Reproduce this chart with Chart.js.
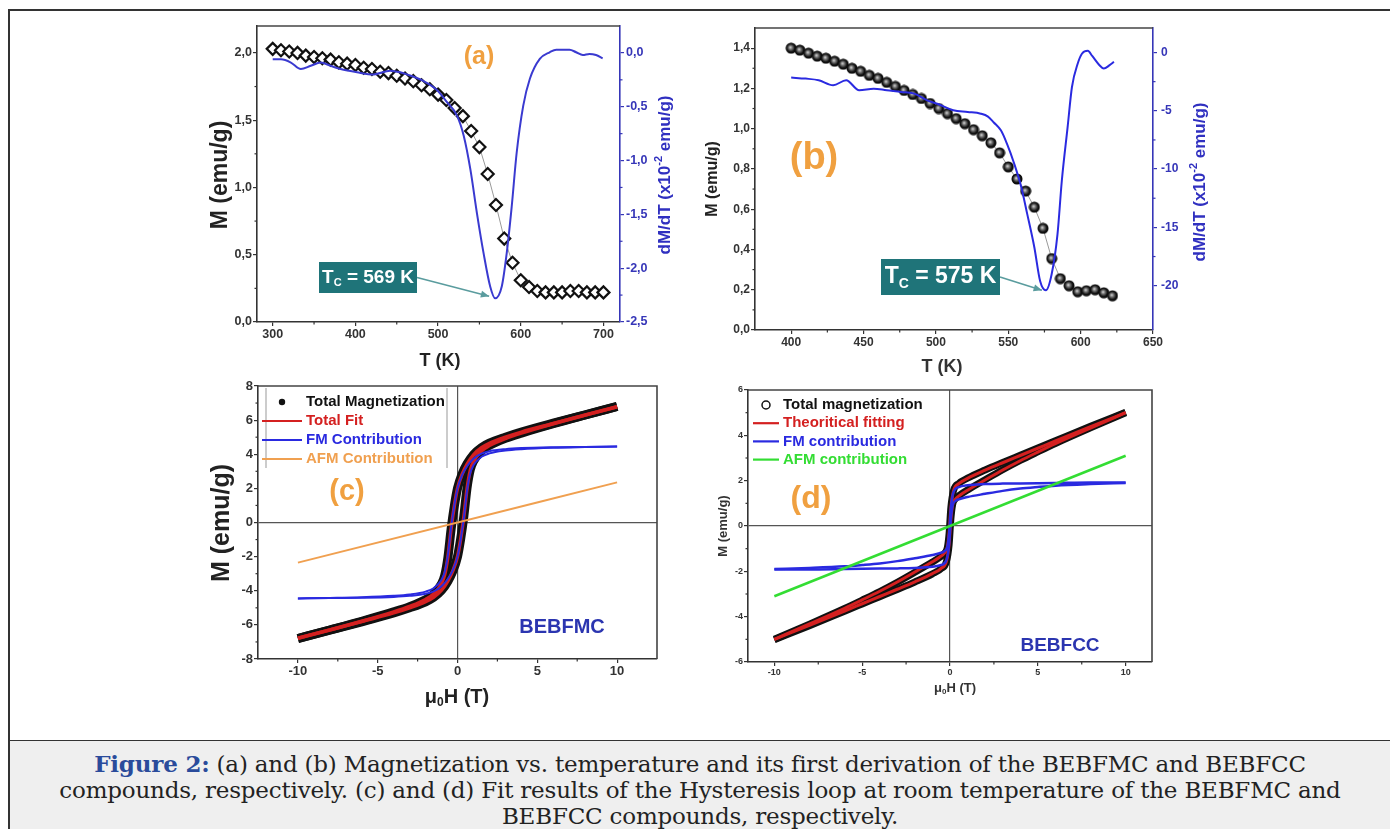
<!DOCTYPE html>
<html>
<head>
<meta charset="utf-8">
<script src="https://cdn.jsdelivr.net/npm/chart.js@4.4.1/dist/chart.umd.min.js"></script>
<style>
  body { margin: 0; width: 1390px; height: 829px; background: #fff; position: relative; overflow: hidden; }
  #frame { position: absolute; left: 8px; top: 9px; width: 1400px; height: 830px; border-left: 2px solid #333; border-top: 2px solid #333; }
  canvas { position: absolute; }
  #caption { position: absolute; left: 10px; top: 740px; width: 1380px; height: 89px; background: #efefef; border-top: 1px solid #333;
             font-family: 'DejaVu Serif', 'Liberation Serif', serif; font-size: 23px; line-height: 26px; letter-spacing: -0.2px;
             color: #222; text-align: center; padding-top: 10px; box-sizing: border-box; }
  #caption b { color: #2a4b9b; }
</style>
</head>
<body>
<div id="frame"></div>
<canvas id="cA"></canvas>
<canvas id="cB"></canvas>
<canvas id="cC"></canvas>
<canvas id="cD"></canvas>
<div id="caption"><b>Figure 2:</b> (a) and (b) Magnetization vs. temperature and its first derivation of the BEBFMC and BEBFCC<br>compounds, respectively. (c) and (d) Fit results of the Hysteresis loop at room temperature of the BEBFMC and<br>BEBFCC compounds, respectively.</div>
<script>
// ---- (a) BEBFMC : M(T) and dM/dT ----
const tempA = [300,310,320,330,340,350,360,370,380,390,400,410,420,430,440,450,460,470,480,490,500,510,520,530,540,550,560,570,580,590,600,610,620,630,640,650,660,670,680,690,700];
const magA = [2.03,2.02,2.01,2.00,1.98,1.97,1.96,1.95,1.93,1.92,1.91,1.89,1.88,1.86,1.85,1.83,1.81,1.79,1.76,1.73,1.69,1.65,1.59,1.53,1.42,1.30,1.10,0.87,0.62,0.44,0.31,0.26,0.23,0.22,0.22,0.22,0.23,0.23,0.22,0.22,0.22];
const tempDerivA = [300,310,322,334,346,358,370,382,402,422,442,454,466,482,498,510,523,531,539,547,555,563,569,577,583,589,595,603,611,623,635,643,659,667,675,683,691,699];
const derivA = [-0.06,-0.06,-0.09,-0.15,-0.12,-0.09,-0.12,-0.15,-0.18,-0.2,-0.165,-0.18,-0.21,-0.26,-0.34,-0.45,-0.585,-0.77,-1.08,-1.49,-1.86,-2.17,-2.28,-2.17,-1.86,-1.43,-0.93,-0.49,-0.24,-0.056,0.006,0.03,0.03,0.006,-0.02,-0.01,-0.02,-0.05];
const tTicksA = [300,400,500,600,700];
const mTicksA = [0,0.5,1.0,1.5,2.0];
const dTicksA = [0,-0.5,-1.0,-1.5,-2.0,-2.5];

// ---- (b) BEBFCC : M(T) and dM/dT ----
const tempB = [400,406,412,418,424,430,436,442,448,454,460,466,472,478,484,490,496,502,508,514,520,526,532,538,544,550,556,562,568,574,580,586,592,598,604,610,616,622];
const magB = [1.40,1.39,1.375,1.36,1.35,1.335,1.32,1.30,1.285,1.265,1.25,1.23,1.21,1.19,1.17,1.15,1.125,1.10,1.075,1.05,1.025,0.995,0.965,0.93,0.88,0.81,0.75,0.69,0.61,0.505,0.355,0.255,0.22,0.19,0.195,0.20,0.185,0.17];
const tempDerivB = [400,410,419,429,438,447,457,466,476,485,494,503,512,522,531,536,540,545,549,554,559,563,568,572,576,580,584,587,591,594,598,601,605,608,613,616,620,623];
const derivB = [-2.15,-2.24,-2.38,-2.81,-2.38,-3.24,-3.1,-3.24,-3.38,-3.53,-4.1,-4.5,-4.96,-5.1,-5.25,-5.5,-6.0,-6.7,-7.8,-9.5,-11.55,-13.8,-16.7,-19.6,-20.4,-19.0,-15.6,-11.0,-6.4,-2.96,-0.95,-0.09,0.14,-0.3,-1.09,-1.38,-1.09,-0.8];
const tTicksB = [400,450,500,550,600,650];
const mTicksB = [0,0.2,0.4,0.6,0.8,1.0,1.2,1.4];
const dTicksB = [0,-5,-10,-15,-20];

// ---- (c) BEBFMC hysteresis ----
const fieldDownC = [10,8,6,4,3,2,1.5,1,0.6,0.3,0,-0.2,-0.4,-0.6,-0.8,-1,-1.5,-2,-3,-4,-6,-8,-10];
const fieldUpC = [-10,-8,-6,-4,-3,-2,-1.5,-1,-0.6,-0.3,0,0.2,0.4,0.6,0.8,1,1.5,2,3,4,6,8,10];
const totalDownC = [6.8,6.31,5.82,5.3,5.0,4.65,4.39,3.98,3.44,2.87,2.0,0.95,-0.39,-2.04,-3.09,-3.59,-4.2,-4.52,-4.93,-5.24,-5.79,-6.3,-6.8];
const totalUpC = [-6.8,-6.31,-5.82,-5.3,-5.0,-4.65,-4.39,-3.98,-3.44,-2.87,-2.0,-0.95,0.39,2.04,3.09,3.59,4.2,4.52,4.93,5.24,5.79,6.3,6.8];
const fitDownC = [6.78,6.3,5.8,5.3,5.0,4.64,4.38,3.97,3.42,2.85,2.0,0.97,-0.36,-2.0,-3.06,-3.57,-4.19,-4.51,-4.92,-5.24,-5.79,-6.29,-6.78];
const fitUpC = [-6.78,-6.3,-5.8,-5.3,-5.0,-4.64,-4.38,-3.97,-3.42,-2.85,-2.0,-0.97,0.36,2.0,3.06,3.57,4.19,4.51,4.92,5.24,5.79,6.29,6.78];
const fmDownC = [4.45,4.43,4.41,4.36,4.3,4.18,4.04,3.74,3.3,2.8,2.0,1.0,-0.3,-1.9,-2.9,-3.35,-3.85,-4.05,-4.22,-4.3,-4.38,-4.42,-4.45];
const fmUpC = [-4.45,-4.43,-4.41,-4.36,-4.3,-4.18,-4.04,-3.74,-3.3,-2.8,-2.0,-1.0,0.3,1.9,2.9,3.35,3.85,4.05,4.22,4.3,4.38,4.42,4.45];
const afmFieldC = [-10,10];
const afmC = [-2.35,2.35];
const hTicksC = [-10,-5,0,5,10];
const mTicksC = [-8,-6,-4,-2,0,2,4,6,8];

// ---- (d) BEBFCC hysteresis ----
const fieldDownD = [10,8,6,5,4,3,2,1,0.5,0.2,0.05,-0.05,-0.15,-0.3,-0.6,-1,-2,-3,-4,-5,-6,-8,-10];
const fieldUpD = [-10,-8,-6,-5,-4,-3,-2,-1,-0.5,-0.2,-0.05,0.05,0.15,0.3,0.6,1,2,3,4,5,6,8,10];
const totalDownD = [5.02,4.4,3.76,3.44,3.12,2.8,2.47,2.11,1.88,1.56,0.82,-0.32,-0.95,-1.19,-1.39,-1.59,-2.04,-2.48,-2.89,-3.27,-3.64,-4.33,-5.0];
const totalUpD = [-5.02,-4.4,-3.76,-3.44,-3.12,-2.8,-2.47,-2.11,-1.88,-1.56,-0.82,0.32,0.95,1.19,1.39,1.59,2.04,2.48,2.89,3.27,3.64,4.33,5.0];
const fitDownD = [5.0,4.38,3.75,3.43,3.11,2.79,2.46,2.1,1.87,1.55,0.8,-0.3,-0.93,-1.18,-1.38,-1.58,-2.03,-2.47,-2.88,-3.26,-3.63,-4.32,-5.0];
const fitUpD = [-5.0,-4.38,-3.75,-3.43,-3.11,-2.79,-2.46,-2.1,-1.87,-1.55,-0.8,0.3,0.93,1.18,1.38,1.58,2.03,2.47,2.88,3.26,3.63,4.32,5.0];
const fmDownD = [1.92,1.92,1.9,1.89,1.88,1.87,1.85,1.8,1.72,1.5,0.8,-0.3,-0.9,-1.1,-1.2,-1.28,-1.42,-1.55,-1.65,-1.72,-1.78,-1.85,-1.9];
const fmUpD = [-1.92,-1.92,-1.9,-1.89,-1.88,-1.87,-1.85,-1.8,-1.72,-1.5,-0.8,0.3,0.9,1.1,1.2,1.28,1.42,1.55,1.65,1.72,1.78,1.85,1.9];
const afmFieldD = [-10,10];
const afmD = [-3.1,3.1];
const hTicksD = [-10,-5,0,5,10];
const mTicksD = [-6,-4,-2,0,2,4,6];

const FONT = "'Liberation Sans', Arial, sans-serif";
const xy = (xs, ys) => xs.map((x, i) => ({x: x, y: ys[i]}));
const comma1 = v => v.toFixed(1).replace('.', ',');
const plain = v => String(v);

// shaded black ball used for panel (b)
function sphere(r) {
  const c = document.createElement('canvas');
  c.width = c.height = 2 * r;
  const g = c.getContext('2d');
  const grd = g.createRadialGradient(r * 0.85, r * 0.85, 0, r, r, r);
  grd.addColorStop(0, '#e0e0e0');
  grd.addColorStop(0.3, '#777');
  grd.addColorStop(0.65, '#151515');
  grd.addColorStop(1, '#000');
  g.fillStyle = grd;
  g.beginPath(); g.arc(r, r, r - 0.5, 0, Math.PI * 2); g.fill();
  return c;
}

function drawRich(ctx, x, y, parts, rot) {
  ctx.save();
  ctx.translate(x, y);
  if (rot) ctx.rotate(rot);
  ctx.textBaseline = 'middle';
  ctx.textAlign = 'left';
  let w = 0;
  parts.forEach(p => { ctx.font = p.f; w += ctx.measureText(p.t).width; });
  let cx = -w / 2;
  parts.forEach(p => {
    ctx.font = p.f; ctx.fillStyle = p.c;
    ctx.fillText(p.t, cx, p.dy || 0);
    cx += ctx.measureText(p.t).width;
  });
  ctx.restore();
}

function axis(o, pos, size, color, fixed) {
  return {
    type: 'linear', position: pos, min: o.min, max: o.max,
    afterBuildTicks: s => { s.ticks = o.ticks.map(v => ({value: v})); },
    afterFit: s => { if (pos === 'bottom') s.height = fixed; else s.width = fixed; },
    ticks: {font: {family: FONT, size: size, weight: 'bold'}, color: color, padding: o.pad || 1,
            callback: v => o.fmt(v), autoSkip: false, maxRotation: 0},
    grid: {drawOnChartArea: !!o.zero, lineWidth: 1.2, tickLength: 4, tickColor: color,
           color: c => (o.zero && c.tick && c.tick.value === 0) ? '#555' : 'rgba(0,0,0,0)'},
    border: {display: true, color: color, width: 1.6}
  };
}

function decoPlugin(p) {
  return {
    id: 'deco',
    afterDatasetsDraw(chart) {
      const ctx = chart.ctx, a = chart.chartArea;
      const ox = p.box.x, oy = p.box.y;
      ctx.save();
      // frame top / right
      ctx.strokeStyle = '#444'; ctx.lineWidth = 1.6;
      ctx.beginPath(); ctx.moveTo(a.left, a.top); ctx.lineTo(a.right, a.top);
      if (!p.y2) ctx.lineTo(a.right, a.bottom);
      ctx.stroke();
      // minor ticks
      Object.values(chart.scales).forEach(s => {
        const t = s.ticks.map(k => k.value);
        ctx.strokeStyle = s.options.border.color; ctx.lineWidth = 1.2;
        for (let i = 0; i < t.length - 1; i++) {
          const m = (t[i] + t[i + 1]) / 2, px = s.getPixelForValue(m);
          ctx.beginPath();
          if (s.position === 'bottom') { ctx.moveTo(px, a.bottom); ctx.lineTo(px, a.bottom + 2.5); }
          else if (s.position === 'left') { ctx.moveTo(a.left, px); ctx.lineTo(a.left - 2.5, px); }
          else { ctx.moveTo(a.right, px); ctx.lineTo(a.right + 2.5, px); }
          ctx.stroke();
        }
      });
      // axis titles and labels
      (p.texts || []).forEach(t => drawRich(ctx, t.x - ox, t.y - oy, t.parts, t.rot));
      // legend
      if (p.legend) {
        const L = p.legend;
        if (L.bars) {
          ctx.strokeStyle = '#999'; ctx.lineWidth = 1;
          L.bars.forEach(b => { ctx.beginPath(); ctx.moveTo(b - ox, L.barTop - oy); ctx.lineTo(b - ox, L.barBottom - oy); ctx.stroke(); });
        }
        L.rows.forEach((r, i) => {
          const y = L.rows0 + i * L.step - oy;
          if (r.sym === 'dot') {
            ctx.fillStyle = '#111'; ctx.beginPath(); ctx.arc((L.x1 + L.x2) / 2 - ox, y, 3.2, 0, Math.PI * 2); ctx.fill();
          } else if (r.sym === 'circle') {
            ctx.strokeStyle = '#111'; ctx.lineWidth = 1.5; ctx.beginPath(); ctx.arc((L.x1 + L.x2) / 2 - ox, y, 4, 0, Math.PI * 2); ctx.stroke();
          } else {
            ctx.strokeStyle = r.color; ctx.lineWidth = 2.2; ctx.beginPath(); ctx.moveTo(L.x1 - ox, y); ctx.lineTo(L.x2 - ox, y); ctx.stroke();
          }
          ctx.font = 'bold ' + L.size + 'px ' + FONT; ctx.fillStyle = r.color;
          ctx.textAlign = 'left'; ctx.textBaseline = 'middle';
          ctx.fillText(r.text, L.tx - ox, y);
        });
      }
      // Tc annotation box with arrow to the dM/dT minimum
      if (p.tc) {
        const c = p.tc;
        const tipX = chart.scales.x.getPixelForValue(c.t) + c.dx, tipY = chart.scales.y2.getPixelForValue(c.v) + c.dy;
        const sx = c.box[2] - ox, sy = (c.box[1] + c.box[3]) / 2 - oy;
        ctx.strokeStyle = '#5a9c9e'; ctx.fillStyle = '#5a9c9e'; ctx.lineWidth = 1.6;
        ctx.beginPath(); ctx.moveTo(sx, sy); ctx.lineTo(tipX, tipY); ctx.stroke();
        const ang = Math.atan2(tipY - sy, tipX - sx);
        ctx.beginPath(); ctx.moveTo(tipX, tipY);
        ctx.lineTo(tipX - 9 * Math.cos(ang - 0.4), tipY - 9 * Math.sin(ang - 0.4));
        ctx.lineTo(tipX - 9 * Math.cos(ang + 0.4), tipY - 9 * Math.sin(ang + 0.4));
        ctx.closePath(); ctx.fill();
        ctx.fillStyle = '#1f7479';
        ctx.fillRect(c.box[0] - ox, c.box[1] - oy, c.box[2] - c.box[0], c.box[3] - c.box[1]);
        const s = c.size;
        drawRich(ctx, (c.box[0] + c.box[2]) / 2 - ox, (c.box[1] + c.box[3]) / 2 - oy, [
          {t: 'T', f: 'bold ' + s + 'px ' + FONT, c: '#fff'},
          {t: 'C', f: 'bold ' + Math.round(s * 0.6) + 'px ' + FONT, c: '#fff', dy: s * 0.3},
          {t: ' = ' + c.label, f: 'bold ' + s + 'px ' + FONT, c: '#fff'}
        ]);
      }
      ctx.restore();
    }
  };
}

function buildPanel(p) {
  const cv = document.getElementById(p.id);
  cv.width = p.box.w; cv.height = p.box.h;
  cv.style.left = p.box.x + 'px'; cv.style.top = p.box.y + 'px';
  const leftW = p.area.l - p.box.x;
  const topP = p.area.t - p.box.y;
  const rightW = p.box.x + p.box.w - p.area.r;
  const bottomH = p.box.y + p.box.h - p.area.b;
  const scales = {
    x: axis(p.x, 'bottom', p.tick, '#333', bottomH),
    y: axis(p.y, 'left', p.tick, '#333', leftW)
  };
  if (p.y2) scales.y2 = axis(p.y2, 'right', p.tick, p.y2.color, rightW);
  new Chart(cv, {
    type: 'scatter',
    data: {datasets: p.datasets},
    options: {
      responsive: false, animation: false, events: [],
      layout: {padding: {left: 0, top: topP, right: p.y2 ? 0 : rightW, bottom: 0}},
      scales: scales,
      plugins: {legend: {display: false}, tooltip: {enabled: false}}
    },
    plugins: [decoPlugin(p)]
  });
}

const line = (data, color, width, order, extra) => Object.assign({
  data: data, showLine: true, borderColor: color, borderWidth: width, pointRadius: 0,
  cubicInterpolationMode: 'monotone', order: order
}, extra || {});

const B = s => 'bold ' + s + 'px ' + FONT;
const orange = '#f0a040', navy = '#2b35b0';

// (a)
buildPanel({
  id: 'cA', box: {x: 185, y: 16, w: 495, h: 364}, area: {l: 257, t: 26, r: 620, b: 322}, tick: 12.5,
  x: {min: 281, max: 720, ticks: tTicksA, fmt: plain},
  y: {min: 0, max: 2.2, ticks: mTicksA, fmt: comma1},
  y2: {min: -2.5, max: 0.25, ticks: dTicksA, fmt: comma1, color: '#3636b8', pad: 2},
  datasets: [
    line(xy(tempDerivA, derivA), '#3a3ad0', 2, 0, {yAxisID: 'y2'}),
    {data: xy(tempA, magA), yAxisID: 'y', showLine: true, borderColor: '#999', borderWidth: 1,
     pointStyle: 'rectRot', pointRadius: 6, pointBorderColor: '#111', pointBackgroundColor: '#fff', pointBorderWidth: 2.2, order: 1}
  ],
  texts: [
    {x: 221, y: 175, rot: -Math.PI / 2, parts: [{t: 'M (emu/g)', f: B(23), c: '#222'}]},
    {x: 440, y: 361, parts: [{t: 'T (K)', f: B(18), c: '#222'}]},
    {x: 665, y: 175, rot: -Math.PI / 2, parts: [{t: 'dM/dT (x10', f: B(17), c: '#3030c0'}, {t: '-2', f: B(11), c: '#3030c0', dy: -6}, {t: ' emu/g)', f: B(17), c: '#3030c0'}]},
    {x: 479, y: 57, parts: [{t: '(a)', f: B(25), c: orange}]}
  ],
  tc: {t: 569, v: -2.28, dx: -6, dy: -2, box: [319, 262, 417, 293], size: 19, label: '569 K'}
});

// (b)
buildPanel({
  id: 'cB', box: {x: 700, y: 16, w: 520, h: 370}, area: {l: 755, t: 28, r: 1153, b: 330}, tick: 12,
  x: {min: 375, max: 650, ticks: tTicksB, fmt: plain},
  y: {min: 0, max: 1.5, ticks: mTicksB, fmt: comma1},
  y2: {min: -23.8, max: 2.1, ticks: dTicksB, fmt: plain, color: '#3636b8', pad: 4},
  datasets: [
    line(xy(tempDerivB, derivB), '#2a2ae0', 2, 0, {yAxisID: 'y2'}),
    {data: xy(tempB, magB), yAxisID: 'y', showLine: true, borderColor: '#999', borderWidth: 1,
     pointStyle: sphere(6), order: 1}
  ],
  texts: [
    {x: 713, y: 179, rot: -Math.PI / 2, parts: [{t: 'M (emu/g)', f: B(16), c: '#222'}]},
    {x: 942, y: 367, parts: [{t: 'T (K)', f: B(18), c: '#333'}]},
    {x: 1200, y: 182, rot: -Math.PI / 2, parts: [{t: 'dM/dT (x10', f: B(17), c: '#3030c0'}, {t: '-2', f: B(11), c: '#3030c0', dy: -6}, {t: ' emu/g)', f: B(17), c: '#3030c0'}]},
    {x: 814, y: 159, parts: [{t: '(b)', f: B(38), c: orange}]}
  ],
  tc: {t: 576, v: -20.4, dx: -4, dy: 0, box: [881, 259, 1000, 295], size: 23, label: '575 K'}
});

// (c)
buildPanel({
  id: 'cC', box: {x: 185, y: 376, w: 495, h: 344}, area: {l: 258, t: 386, r: 657, b: 659}, tick: 13,
  x: {min: -12.5, max: 12.5, ticks: hTicksC, fmt: plain, zero: true},
  y: {min: -8, max: 8, ticks: mTicksC, fmt: plain, zero: true},
  datasets: [
    line(xy(afmFieldC, afmC), '#f0a050', 2, 0),
    line(xy(fieldDownC, fmDownC), '#2a2ae0', 2, 1),
    line(xy(fieldUpC, fmUpC), '#2a2ae0', 2, 1),
    line(xy(fieldDownC, fitDownC), '#d42020', 3.5, 2),
    line(xy(fieldUpC, fitUpC), '#d42020', 3.5, 2),
    line(xy(fieldDownC, totalDownC), '#111', 9, 3),
    line(xy(fieldUpC, totalUpC), '#111', 9, 3)
  ],
  texts: [
    {x: 222, y: 523, rot: -Math.PI / 2, parts: [{t: 'M (emu/g)', f: B(25), c: '#222'}]},
    {x: 457, y: 697, parts: [{t: 'μ', f: B(20), c: '#222'}, {t: '0', f: B(12), c: '#222', dy: 6}, {t: 'H (T)', f: B(20), c: '#222'}]},
    {x: 347, y: 492, parts: [{t: '(c)', f: B(29), c: orange}]},
    {x: 562, y: 627, parts: [{t: 'BEBFMC', f: B(20), c: navy}]}
  ],
  legend: {x1: 262, x2: 302, tx: 306, rows0: 402, step: 19, size: 15, bars: [266, 447], barTop: 388, barBottom: 468,
    rows: [{sym: 'dot', color: '#111', text: 'Total Magnetization'}, {sym: 'line', color: '#d42020', text: 'Total Fit'},
           {sym: 'line', color: '#2a2ae0', text: 'FM Contribution'}, {sym: 'line', color: '#f0a050', text: 'AFM Contribution'}]}
});

// (d)
buildPanel({
  id: 'cD', box: {x: 700, y: 376, w: 480, h: 344}, area: {l: 748, t: 390, r: 1152, b: 662}, tick: 9,
  x: {min: -11.5, max: 11.5, ticks: hTicksD, fmt: plain, zero: true},
  y: {min: -6, max: 6, ticks: mTicksD, fmt: plain, zero: true},
  datasets: [
    line(xy(afmFieldD, afmD), '#33dd33', 2.5, 0),
    line(xy(fieldDownD, fmDownD), '#2a2ae0', 2.5, 1),
    line(xy(fieldUpD, fmUpD), '#2a2ae0', 2.5, 1),
    line(xy(fieldDownD, fitDownD), '#d42020', 3, 2),
    line(xy(fieldUpD, fitUpD), '#d42020', 3, 2),
    line(xy(fieldDownD, totalDownD), '#111', 7, 3),
    line(xy(fieldUpD, totalUpD), '#111', 7, 3)
  ],
  texts: [
    {x: 723, y: 526, rot: -Math.PI / 2, parts: [{t: 'M (emu/g)', f: B(13), c: '#333'}]},
    {x: 955, y: 688, parts: [{t: 'μ', f: B(13), c: '#333'}, {t: '0', f: B(8), c: '#333', dy: 4}, {t: 'H (T)', f: B(13), c: '#333'}]},
    {x: 811, y: 499, parts: [{t: '(d)', f: B(32), c: orange}]},
    {x: 1060, y: 646, parts: [{t: 'BEBFCC', f: B(19), c: navy}]}
  ],
  legend: {x1: 753, x2: 779, tx: 783, rows0: 405, step: 18.2, size: 15,
    rows: [{sym: 'circle', color: '#111', text: 'Total magnetization'}, {sym: 'line', color: '#d42020', text: 'Theoritical fitting'},
           {sym: 'line', color: '#2a2ae0', text: 'FM contribution'}, {sym: 'line', color: '#33dd33', text: 'AFM contribution'}]}
});
</script>
</body>
</html>
